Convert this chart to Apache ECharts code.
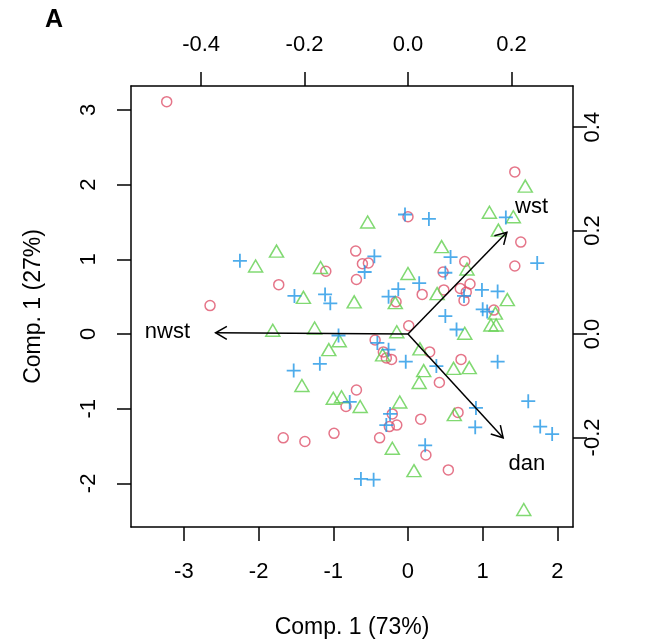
<!DOCTYPE html>
<html>
<head>
<meta charset="utf-8">
<script src="https://cdn.jsdelivr.net/npm/echarts@6/dist/echarts.min.js"></script>
<style>
  html, body { margin: 0; padding: 0; background: #fff; }
  #chart { width: 646px; height: 640px; }
</style>
</head>
<body>
<div id="chart"></div>
<script>
// tick labels
const xTicks = [-3, -2, -1, 0, 1, 2];
const yTicks = [-2, -1, 0, 1, 2, 3];
const topTicks = [-0.4, -0.2, 0.0, 0.2];
const rightTicks = [-0.2, 0.0, 0.2, 0.4];

// scores (Comp.1, Comp.2), three groups
const redPts = [
  [-3.23, 3.11], [0.00, 1.57], [1.43, 2.17], [-2.65, 0.38], [-1.73, 0.66],
  [-0.70, 1.11], [-0.61, 0.94], [-0.53, 0.95], [-1.10, 0.84], [-0.69, 0.73],
  [-0.16, 0.43], [0.19, 0.53], [0.01, 0.11], [-0.44, -0.08], [-0.33, -0.24],
  [-0.29, -0.32], [-0.22, -0.34], [1.51, 1.23], [0.76, 0.97], [0.47, 0.83],
  [1.43, 0.91], [0.48, 0.59], [0.70, 0.61], [0.83, 0.67], [0.78, 0.56],
  [0.75, 0.45], [1.15, 0.32], [0.29, -0.24], [0.71, -0.34], [0.42, -0.65],
  [0.67, -1.05], [0.17, -1.14], [0.24, -1.62], [0.54, -1.82], [-0.83, -0.97],
  [-0.69, -0.75], [-0.21, -1.07], [-0.25, -1.24], [-0.15, -1.22], [-1.67, -1.39],
  [-1.38, -1.44], [-0.99, -1.33], [-0.38, -1.39]
];
const greenPts = [
  [-0.54, 1.50], [1.57, 1.98], [1.09, 1.63], [1.41, 1.57], [-2.04, 0.91],
  [-1.76, 1.11], [-1.81, 0.05], [-1.17, 0.89], [0.00, 0.81], [-1.40, 0.49],
  [-0.72, 0.43], [-0.17, 0.42], [-1.25, 0.08], [-0.15, 0.03], [-0.92, -0.09],
  [-1.06, -0.21], [-0.34, -0.28], [0.16, -0.20], [1.21, 1.39], [0.45, 1.17],
  [0.79, 0.87], [0.39, 0.54], [1.33, 0.46], [1.17, 0.28], [1.11, 0.12],
  [1.18, 0.12], [0.76, 0.01], [0.61, -0.46], [0.82, -0.45], [0.21, -0.49],
  [0.15, -0.65], [0.62, -1.08], [0.08, -1.83], [1.55, -2.35], [-1.42, -0.69],
  [-1.00, -0.86], [-0.89, -0.84], [-0.64, -0.97], [-0.11, -0.91], [-0.21, -1.53]
];
const bluePts = [
  [-0.04, 1.60], [0.28, 1.54], [1.31, 1.56], [-2.25, 0.98], [-0.45, 1.04],
  [-0.58, 0.83], [0.15, 0.68], [-1.52, 0.51], [-1.11, 0.53], [-1.04, 0.41],
  [-0.13, 0.60], [-0.26, 0.50], [-0.93, -0.02], [-0.41, -0.12], [-0.26, -0.21],
  [-0.03, -0.37], [-1.18, -0.40], [-1.53, -0.49], [0.57, 1.03], [0.50, 0.82],
  [1.73, 0.95], [0.99, 0.59], [1.20, 0.57], [0.75, 0.51], [1.00, 0.33],
  [1.06, 0.30], [0.50, 0.24], [0.65, 0.06], [0.38, -0.43], [1.20, -0.37],
  [1.61, -0.90], [0.91, -0.99], [0.90, -1.25], [1.77, -1.24], [1.93, -1.34],
  [0.23, -1.49], [-0.78, -0.91], [-0.24, -1.07], [-0.29, -1.22], [-0.63, -1.94],
  [-0.46, -1.95]
];

// variable loadings (top / right scale)
const varNames = ['wst', 'nwst', 'dan'];
const loadX = [0.239, -0.465, 0.230];
const loadY = [0.246, 0.003, -0.251];

const FONT = 'Liberation Sans, Arial, sans-serif';
const scale = 6.924; // scores units per loading unit
const xMin = -3.708, xMax = 2.209, yMin = -2.584, yMax = 3.320;

function axisCommon(ticks, fmt, extra) {
  return Object.assign({
    type: 'value',
    axisLine: { show: true, onZero: false, lineStyle: { color: '#000', width: 1.5 } },
    axisTick: { show: true, length: 14, customValues: ticks, lineStyle: { color: '#000', width: 1.5 } },
    axisLabel: { customValues: ticks, formatter: fmt, color: '#000', fontSize: 22, fontFamily: FONT },
    splitLine: { show: false }
  }, extra);
}
const intFmt = v => String(Math.round(v));
const decFmt = v => Number(v).toFixed(1);
const nameStyle = { fontSize: 23, fontFamily: FONT, color: '#000' };

const chart = echarts.init(document.getElementById('chart'));
const xb = axisCommon(xTicks, intFmt, { position: 'bottom', min: xMin, max: xMax,
  name: 'Comp. 1 (73%)', nameLocation: 'middle', nameGap: 89, nameTextStyle: nameStyle });
xb.axisLabel.margin = 34;
const xt = axisCommon(topTicks, decFmt, { position: 'top', min: xMin / scale, max: xMax / scale });
xt.axisLabel.margin = 30;
const yl = axisCommon(yTicks, intFmt, { position: 'left', min: yMin, max: yMax,
  name: 'Comp. 1 (27%)', nameLocation: 'middle', nameGap: 86, nameRotate: 90, nameTextStyle: nameStyle });
yl.axisLabel.rotate = 90;
yl.axisLabel.margin = 31;
const yr = axisCommon(rightTicks, decFmt, { position: 'right', min: yMin / scale, max: yMax / scale });
yr.axisLabel.rotate = 90;
yr.axisLabel.margin = 9;

chart.setOption({
  animation: false,
  title: { text: 'A', left: 40, top: 3, textStyle: { fontSize: 25, fontWeight: 'bold', fontFamily: FONT, color: '#000' } },
  grid: { left: 131, right: 73, top: 86, bottom: 113, outerBoundsMode: 'none' },
  xAxis: [xb, xt],
  yAxis: [yl, yr],
  series: [
    { type: 'scatter', data: redPts, symbol: 'circle', symbolSize: 10,
      itemStyle: { color: 'transparent', borderColor: '#DF536B', borderWidth: 1.5 } },
    { type: 'scatter', data: greenPts, symbol: 'triangle', symbolSize: [14, 12],
      itemStyle: { color: 'transparent', borderColor: '#61D04F', borderWidth: 1.5 } },
    { type: 'scatter', data: bluePts, symbol: 'path://M0,7H14M7,0V14', symbolSize: 14,
      itemStyle: { color: 'transparent', borderColor: '#2297E6', borderWidth: 1.8 } },
    {
      type: 'custom', xAxisIndex: 1, yAxisIndex: 1, z: 5,
      data: varNames.map((n, i) => [loadX[i], loadY[i]]),
      renderItem: function (params, api) {
        const lx = api.value(0), ly = api.value(1);
        const o = api.coord([0, 0]);
        const tip = api.coord([lx * 0.8, ly * 0.8]);
        const lab = api.coord([lx, ly]);
        const ang = Math.atan2(tip[1] - o[1], tip[0] - o[0]);
        const L = 13, a = Math.PI / 6;
        const p1 = [tip[0] - L * Math.cos(ang - a), tip[1] - L * Math.sin(ang - a)];
        const p2 = [tip[0] - L * Math.cos(ang + a), tip[1] - L * Math.sin(ang + a)];
        return {
          type: 'group',
          children: [
            { type: 'line', shape: { x1: o[0], y1: o[1], x2: tip[0], y2: tip[1] },
              style: { stroke: '#000', lineWidth: 1.5 } },
            { type: 'polyline', shape: { points: [p1, tip, p2] },
              style: { stroke: '#000', lineWidth: 1.5, fill: null } },
            { type: 'text', x: lab[0], y: lab[1],
              style: { text: varNames[params.dataIndex], fontSize: 22, fontFamily: FONT,
                       fill: '#000', align: 'center', verticalAlign: 'middle' } }
          ]
        };
      }
    }
  ]
});
</script>
</body>
</html>
